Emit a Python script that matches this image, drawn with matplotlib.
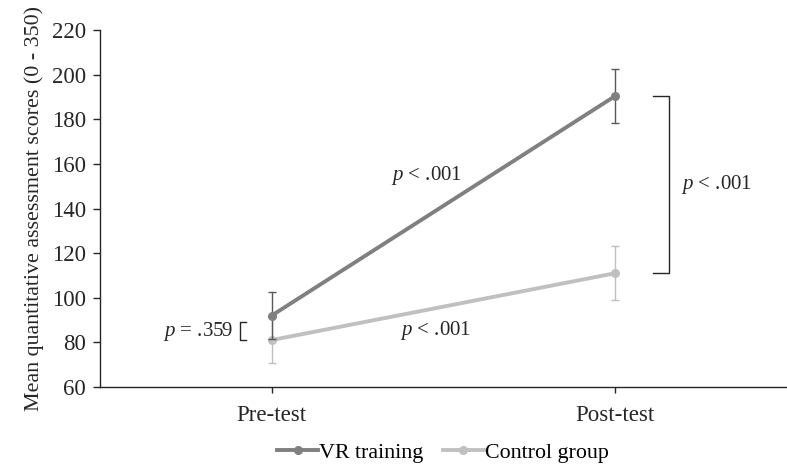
import matplotlib
matplotlib.use("Agg")
import matplotlib.pyplot as plt
from matplotlib.lines import Line2D

plt.rcParams['font.family'] = ['Liberation Serif', 'DejaVu Serif']
plt.rcParams['mathtext.fontset'] = 'custom'
plt.rcParams['mathtext.rm'] = 'Liberation Serif'
plt.rcParams['mathtext.it'] = 'Liberation Serif:italic'

# data
phases = ["Pre-test", "Post-test"]
vr_means = [92, 190.5]
vr_err = [10.5, 12]
ctrl_means = [81, 111]
ctrl_err = [10.5, 12]
series_names = ["VR training", "Control group"]

vr_color = "#808080"
vr_err_color = "#595959"
ctrl_color = "#c0c0c0"
ctrl_err_color = "#bfbfbf"
ink = "#262626"

fig = plt.figure(figsize=(7.87, 4.65), dpi=100)
ax = fig.add_axes([0.127, 0.168, 0.873, 0.767])

x = list(range(len(phases)))

ax.errorbar(x, ctrl_means, yerr=ctrl_err, color=ctrl_color, ecolor=ctrl_err_color,
            lw=2.8, marker='o', ms=5.5, elinewidth=1, capsize=3, capthick=1, zorder=2)
ax.errorbar(x, vr_means, yerr=vr_err, color=vr_color, ecolor=vr_err_color,
            lw=2.8, marker='o', ms=5.5, elinewidth=1, capsize=3, capthick=1, zorder=3)

ax.set_xlim(-0.5, 1.5)
ax.set_ylim(60, 220)
ax.set_yticks(range(60, 221, 20))
ax.set_xticks(x)
ax.set_xticklabels(phases)
ax.tick_params(axis='both', labelsize=16.5, colors=ink, width=1, direction='out')
ax.tick_params(axis='y', length=5, pad=5)
ax.tick_params(axis='x', length=4, pad=9)
for s in ['top', 'right']:
    ax.spines[s].set_visible(False)
for s in ['left', 'bottom']:
    ax.spines[s].set_color(ink)
    ax.spines[s].set_linewidth(1)

ax.set_ylabel("Mean quantitative assessment scores (0 - 350)", fontsize=15.8, color=ink, labelpad=6)

fs = 15
# significance annotations
ax.text(0.452, 155, r"$p$ < .001", fontsize=fs, ha='center', va='center', color=ink)
ax.text(0.478, 85.5, r"$p$ < .001", fontsize=fs, ha='center', va='center', color=ink)

# right bracket between groups at post-test
ax.plot([1.11, 1.157, 1.157, 1.11], [vr_means[1], vr_means[1], ctrl_means[1], ctrl_means[1]],
        color=ink, lw=1, clip_on=False)
ax.text(1.19, (vr_means[1] + ctrl_means[1]) / 2, r"$p$ < .001", fontsize=fs,
        ha='left', va='center', color=ink)

# left bracket at pre-test
ax.plot([-0.075, -0.092, -0.092, -0.075], [89, 89, 81, 81], color=ink, lw=1)
ax.text(-0.112, 85, r"$p$ = .359", fontsize=fs, ha='right', va='center', color=ink)

handles = [Line2D([], [], color=vr_color, lw=2.8, marker='o', ms=5.5),
           Line2D([], [], color=ctrl_color, lw=2.8, marker='o', ms=5.5)]
fig.legend(handles, series_names, loc='center', bbox_to_anchor=(0.563, 0.026),
           ncol=2, frameon=False, fontsize=15.8, handlelength=1.85, handletextpad=0.05,
           columnspacing=0.9)

fig.savefig("out.png", dpi=100)
